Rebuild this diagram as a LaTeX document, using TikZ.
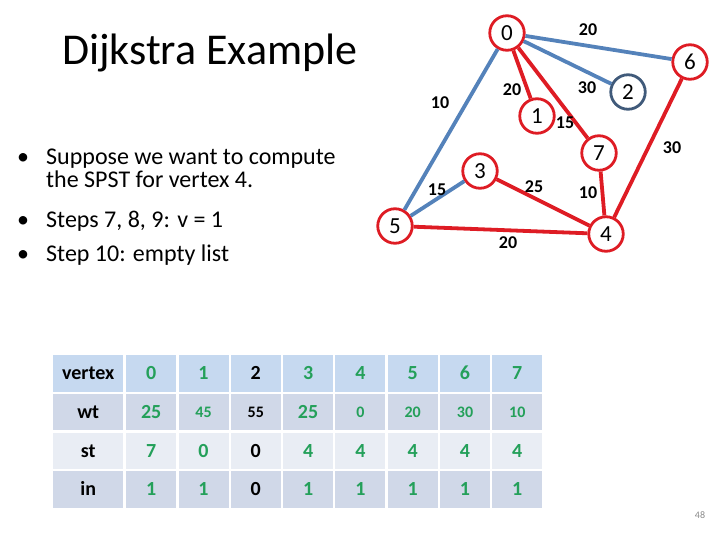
\documentclass[tikz,border=0pt]{standalone}
\usepackage{fontspec}
\setmainfont{Carlito}
\definecolor{gred}{RGB}{222,28,36}
\definecolor{gblue}{RGB}{84,130,186}
\definecolor{gslate}{RGB}{64,90,122}
\definecolor{grn}{RGB}{36,160,90}
\definecolor{hdr}{RGB}{198,217,240}
\definecolor{darkrow}{RGB}{208,216,232}
\definecolor{lightrow}{RGB}{233,237,244}
\definecolor{pgnum}{RGB}{137,137,137}
\tikzset{
  vtx/.style={circle, draw=gred, line width=2.8pt, minimum size=34.5pt, inner sep=0pt, fill=white, font=\fontsize{23}{23}\selectfont},
  bedge/.style={draw=gblue, line width=3.8pt},
  redge/.style={draw=gred, line width=3.8pt},
  wlab/.style={font=\fontsize{18}{18}\bfseries\selectfont, inner sep=0pt},
  bul/.style={anchor=base west, inner sep=0pt, font=\fontsize{24}{24}\selectfont},
  bdot/.style={anchor=base, inner sep=0pt, font=\fontsize{24}{24}\selectfont},
  cell/.style={anchor=north west, inner sep=0pt, minimum height=36.5pt, text height=12.6pt, text depth=0pt, font=\fontsize{20}{20}\bfseries\selectfont}
}
\begin{document}
\begin{tikzpicture}[x=1pt,y=-1pt]
\useasboundingbox (0,0) rectangle (720,540);

% title
\node[anchor=base west, inner sep=0pt, font=\fontsize{44}{44}\selectfont] (title) at (62,65) {Dijkstra Example};

% bullets
\node[bdot] (b1) at (23,165) {•};
\node[bul] (t1) at (46,165) {Suppose we want to compute};
\node[bul] (t1b) at (46,188) {the SPST for vertex 4.};
\node[bdot] (b2) at (23,227) {•};
\node[bul] (t2) at (46,227) {Steps 7, 8, 9: v = 1};
\node[bdot] (b3) at (23,261) {•};
\node[bul] (t3) at (46,261) {Step 10: empty list};

% graph nodes
\node[vtx] (n0) at (507,33) {0};
\node[vtx] (n6) at (690,62) {6};
\node[vtx, draw=gslate] (n2) at (628,92) {2};
\node[vtx] (n1) at (537,116) {1};
\node[vtx] (n7) at (599,153) {7};
\node[vtx] (n3) at (480,171) {3};
\node[vtx] (n5) at (395,226) {5};
\node[vtx] (n4) at (606,234) {4};

% edges
\draw[bedge] (n0) -- (n6);
\draw[bedge] (n0) -- (n2);
\draw[bedge] (n0) -- (n5);
\draw[bedge] (n5) -- (n3);
\draw[redge] (n0) -- (n1);
\draw[redge] (n0) -- (n7);
\draw[redge] (n7) -- (n4);
\draw[redge] (n6) -- (n4);
\draw[redge] (n3) -- (n4);
\draw[redge] (n5) -- (n4);

% edge labels
\node[wlab] (l06) at (588,30) {20};
\node[wlab] (l01) at (512,90) {20};
\node[wlab] (l05) at (440,103) {10};
\node[wlab] (l02) at (587,88) {30};
\node[wlab] (l07) at (565,123) {15};
\node[wlab] (l64) at (672,148) {30};
\node[wlab] (l53) at (437,190) {15};
\node[wlab] (l34) at (534,187) {25};
\node[wlab] (l74) at (588,193) {10};
\node[wlab] (l54) at (508,243) {20};

% table: label column
\foreach \r/\lab/\fc in {0/vertex/hdr, 1/wt/darkrow, 2/st/lightrow, 3/in/darkrow}
  \node[cell, fill=\fc, minimum width=70pt] (c\r-0) at (53,{355+\r*38.7}) {\lab};

% row 0
\foreach \c/\v/\tc in {1/0/grn,2/1/grn,3/2/black,4/3/grn,5/4/grn,6/5/grn,7/6/grn,8/7/grn}
  \node[cell, fill=hdr, minimum width=50pt, text=\tc] (c0-\c) at ({126+(\c-1)*52.3},355) {\v};
% row 1
\foreach \c/\v/\tc/\fs [evaluate=\fs as \th using 0.63*\fs] in {1/25/grn/20,2/45/grn/16,3/55/black/16,4/25/grn/20,5/0/grn/16,6/20/grn/16,7/30/grn/16,8/10/grn/16}
  \node[cell, fill=darkrow, minimum width=50pt, text=\tc, text height=\th pt, font=\fontsize{\fs}{\fs}\bfseries\selectfont] (c1-\c) at ({126+(\c-1)*52.3},{355+38.7}) {\v};
% row 2
\foreach \c/\v/\tc in {1/7/grn,2/0/grn,3/0/black,4/4/grn,5/4/grn,6/4/grn,7/4/grn,8/4/grn}
  \node[cell, fill=lightrow, minimum width=50pt, text=\tc] (c2-\c) at ({126+(\c-1)*52.3},{355+2*38.7}) {\v};
% row 3
\foreach \c/\v/\tc in {1/1/grn,2/1/grn,3/0/black,4/1/grn,5/1/grn,6/1/grn,7/1/grn,8/1/grn}
  \node[cell, fill=darkrow, minimum width=50pt, text=\tc] (c3-\c) at ({126+(\c-1)*52.3},{355+3*38.7}) {\v};

% page number
\node[font=\fontsize{10}{10}\selectfont, text=pgnum, inner sep=0pt] (pg) at (700,515) {48};
\end{tikzpicture}
\end{document}
